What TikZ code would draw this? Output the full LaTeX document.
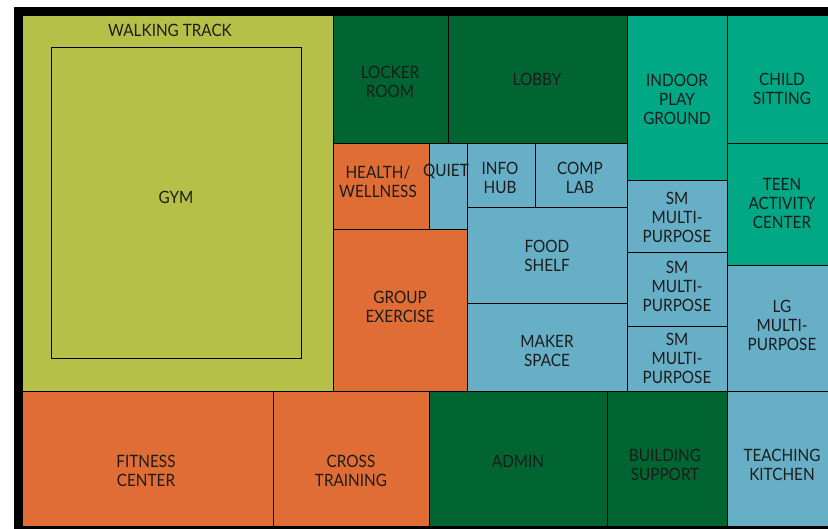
\documentclass[tikz,border=0pt]{standalone}
\usepackage{fontspec}
\setmainfont{Lato}[FakeStretch=0.9]
\definecolor{lime}{HTML}{B5C048}
\definecolor{dkgreen}{HTML}{006530}
\definecolor{orng}{HTML}{E06D35}
\definecolor{skyblue}{HTML}{67AFC7}
\definecolor{teal2}{HTML}{00A885}
\definecolor{txt}{HTML}{1C1C1C}
\tikzset{
  room/.style={draw=black, line width=0.9pt},
  lbl/.style={text=txt, align=center, inner sep=0pt, font=\fontsize{17}{19}\selectfont},
}
\begin{document}
\begin{tikzpicture}[x=1pt,y=-1pt]
\useasboundingbox (0,0) rectangle (828,529);
\clip (0,0) rectangle (828,529);
\fill[white] (0,0) rectangle (828,529);
\fill[black] (14,7) rectangle (840,540);
% rooms
\filldraw[room, fill=lime] (22,15) rectangle (333,391);
\draw[room] (51,47) rectangle (301,358);
\filldraw[room, fill=dkgreen] (333,15) rectangle (448,143);
\filldraw[room, fill=dkgreen] (448,15) rectangle (627,143);
\filldraw[room, fill=teal2] (627,15) rectangle (727,180);
\filldraw[room, fill=teal2] (727,15) rectangle (845,143);
\filldraw[room, fill=teal2] (727,143) rectangle (845,265);
\filldraw[room, fill=orng] (333,143) rectangle (429,229);
\filldraw[room, fill=orng] (333,229) rectangle (467,391);
\filldraw[room, fill=skyblue] (429,143) rectangle (467,229);
\filldraw[room, fill=skyblue] (467,143) rectangle (535,207);
\filldraw[room, fill=skyblue] (535,143) rectangle (627,207);
\filldraw[room, fill=skyblue] (467,207) rectangle (627,303);
\filldraw[room, fill=skyblue] (467,303) rectangle (627,391);
\filldraw[room, fill=skyblue] (627,180) rectangle (727,252);
\filldraw[room, fill=skyblue] (627,252) rectangle (727,326);
\filldraw[room, fill=skyblue] (627,326) rectangle (727,391);
\filldraw[room, fill=skyblue] (727,265) rectangle (845,391);
\filldraw[room, fill=orng] (22,391) rectangle (273,526);
\filldraw[room, fill=orng] (273,391) rectangle (429,526);
\filldraw[room, fill=dkgreen] (429,391) rectangle (607,526);
\filldraw[room, fill=dkgreen] (607,391) rectangle (727,526);
\filldraw[room, fill=skyblue] (727,391) rectangle (845,526);
% labels
\node[lbl] (walk) at (170,30) {WALKING TRACK};
\node[lbl] (gym) at (176,197) {GYM};
\node[lbl] (locker) at (390,82) {LOCKER\\ROOM};
\node[lbl] (lobby) at (537,79) {LOBBY};
\node[lbl] (indoor) at (677,99) {INDOOR\\PLAY\\GROUND};
\node[lbl] (child) at (782,89) {CHILD\\SITTING};
\node[lbl] (teen) at (782,203) {TEEN\\ACTIVITY\\CENTER};
\node[lbl] (health) at (378,182) {HEALTH/\\WELLNESS};
\node[lbl] (quiet) at (446,172) {QUIET};
\node[lbl] (info) at (500,178) {INFO\\HUB};
\node[lbl] (comp) at (580,178) {COMP\\LAB};
\node[lbl] (food) at (547,256) {FOOD\\SHELF};
\node[lbl] (maker) at (547,351) {MAKER\\SPACE};
\node[lbl] (group) at (400,307) {GROUP\\EXERCISE};
\node[lbl] (smA) at (677,217) {SM\\MULTI-\\PURPOSE};
\node[lbl] (smB) at (677,286) {SM\\MULTI-\\PURPOSE};
\node[lbl] (smC) at (677,358) {SM\\MULTI-\\PURPOSE};
\node[lbl] (lg) at (782,325) {LG\\MULTI-\\PURPOSE};
\node[lbl] (fitness) at (146,471) {FITNESS\\CENTER};
\node[lbl] (cross) at (351,471) {CROSS\\TRAINING};
\node[lbl] (admin) at (518,461) {ADMIN};
\node[lbl] (building) at (665,465) {BUILDING\\SUPPORT};
\node[lbl] (teaching) at (782,465) {TEACHING\\KITCHEN};
\end{tikzpicture}
\end{document}
